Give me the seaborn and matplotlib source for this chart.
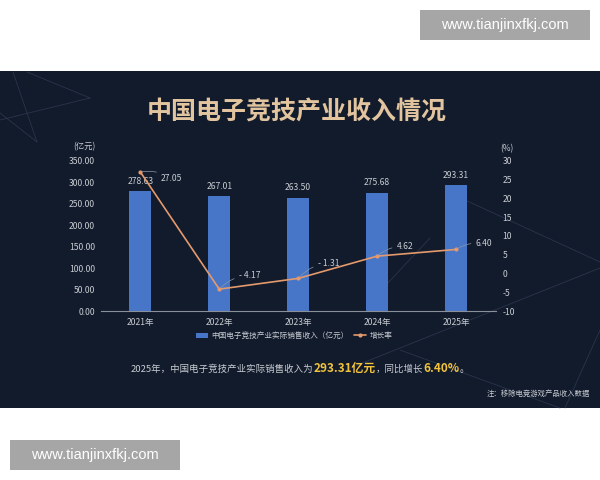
import numpy as np
import pandas as pd
import matplotlib
matplotlib.use('Agg')
import matplotlib.pyplot as plt
from matplotlib.patches import Rectangle
from matplotlib.lines import Line2D
import seaborn as sns

# data
years = ['2021年', '2022年', '2023年', '2024年', '2025年']
revenue = [278.63, 267.01, 263.50, 275.68, 293.31]
growth = [27.05, -4.17, -1.31, 4.62, 6.40]
growth_labels = ['27.05', '- 4.17', '- 1.31', '4.62', '6.40']
left_ticks = [0, 50, 100, 150, 200, 250, 300, 350]
right_ticks = [-10, -5, 0, 5, 10, 15, 20, 25, 30]

bar_name = '中国电子竞技产业实际销售收入（亿元）'
line_name = '增长率'
title = '中国电子竞技产业收入情况'
note = '注：移除电竞游戏产品收入数据'

sns.set_theme(style='white')
plt.rcParams['font.family'] = ['Noto Sans CJK SC', 'DejaVu Sans']
plt.rcParams['axes.unicode_minus'] = False

BG = '#111b2c'
BAR = '#4775c8'
LINE = '#e49a6c'
TXT = '#c9ccd2'
GOLD = '#f2c23c'

fig = plt.figure(figsize=(6, 4.8), dpi=100)
fig.patch.set_facecolor('white')

# dark panel
fig.patches.append(Rectangle((0, 0.15), 1, 0.702, transform=fig.transFigure,
                             facecolor=BG, edgecolor='none', zorder=-2))

# faint decorative lines (pixel coords)
deco = [((13, 72), (37, 142)), ((0, 120), (90, 98)), ((27, 72), (90, 98)),
        ((0, 113), (37, 142)), ((350, 368), (600, 268)), ((465, 200), (600, 262)),
        ((430, 238), (372, 300)), ((565, 408), (600, 330)), ((400, 350), (560, 408))]
for (x0, y0), (x1, y1) in deco:
    fig.add_artist(Line2D([x0 / 600, x1 / 600], [1 - y0 / 480, 1 - y1 / 480],
                          transform=fig.transFigure, color='#34405a', lw=0.6,
                          alpha=0.7, zorder=-1))

ax = fig.add_axes([0.168, 0.352, 0.658, 0.313])
ax.set_facecolor('none')
df = pd.DataFrame({'year': years, 'revenue': revenue, 'growth': growth})

sns.barplot(data=df, x='year', y='revenue', color=BAR, width=0.28,
            saturation=1, linewidth=0, edgecolor='none', ax=ax)
ax.set_ylim(0, 350)
ax.set_xlim(-0.5, 4.5)
ax.set_yticks(left_ticks)
ax.set_yticklabels([f'{v:.2f}' for v in left_ticks])
ax.set_xlabel('')
ax.set_ylabel('')
for s in ['top', 'right', 'left']:
    ax.spines[s].set_visible(False)
ax.spines['bottom'].set_color('#8a9099')
ax.spines['bottom'].set_linewidth(0.8)
ax.tick_params(axis='y', length=0, labelsize=6.2, labelcolor=TXT, pad=4)
ax.tick_params(axis='x', length=0, labelsize=6.2, labelcolor=TXT, pad=5)
ax.set_xticks(np.arange(-0.5, 5, 1), minor=True)
ax.tick_params(axis='x', which='minor', length=3, color='#8a9099', width=0.8)

for i, v in enumerate(revenue):
    ax.annotate(f'{v:.2f}', (i, v), xytext=(0, 4), textcoords='offset points',
                ha='center', va='bottom', fontsize=6.2, color=TXT)

ax2 = ax.twinx()
sns.lineplot(x=np.arange(len(growth)), y=growth, ax=ax2, color=LINE, lw=1.2,
             marker='o', markersize=3, markeredgewidth=0)
ax2.set_ylim(-10, 30)
ax2.set_yticks(right_ticks)
ax2.set_yticklabels([str(v) for v in right_ticks])
ax2.set_facecolor('none')
for s in ax2.spines.values():
    s.set_visible(False)
ax2.tick_params(axis='y', length=0, labelsize=6.2, labelcolor=TXT, pad=5)

offsets = [(15, -5), (14, 10), (14, 11), (14, 7), (14, 4)]
for i, (v, lab) in enumerate(zip(growth, growth_labels)):
    ax2.annotate(lab, (i, v), xytext=offsets[i], textcoords='offset points',
                 ha='left', va='center', fontsize=6.2, color=TXT,
                 arrowprops=dict(arrowstyle='-', color='#8a9aaa', lw=0.5,
                                 shrinkA=1, shrinkB=1,
                                 connectionstyle='arc3,rad=0.2'))

# units
fig.text(84 / 600, 1 - 147 / 480, '(亿元)', fontsize=6, color=TXT, ha='center', va='center')
fig.text(507 / 600, 1 - 149 / 480, '(%)', fontsize=6, color=TXT, ha='center', va='center')

# title
fig.text(0.495, 1 - 112 / 480, title, fontsize=18, fontweight='heavy',
         color='#e2c49e', ha='center', va='center')

# legend
handles = [Rectangle((0, 0), 1, 1, facecolor=BAR, edgecolor='none'),
           Line2D([], [], color=LINE, lw=1.2, marker='o', markersize=3, markeredgewidth=0)]
leg = fig.legend(handles, [bar_name, line_name], loc='center',
                 bbox_to_anchor=(0.49, 1 - 336 / 480), ncol=2, frameon=False,
                 fontsize=5.5, labelcolor=TXT, handlelength=1.6, handleheight=0.7,
                 columnspacing=0.8, handletextpad=0.4)

# summary line with highlighted parts
parts = [('2025年，中国电子竞技产业实际销售收入为', 6.8, 'normal', TXT),
         ('293.31亿元', 8.5, 'bold', GOLD),
         ('，同比增长', 6.8, 'normal', TXT),
         ('6.40%', 8.5, 'bold', GOLD),
         ('。', 6.8, 'normal', TXT)]
renderer = fig.canvas.get_renderer()
texts = []
for s, fs, fw, c in parts:
    t = fig.text(0, 1 - 372 / 480, s, fontsize=fs, fontweight=fw, color=c,
                 ha='left', va='baseline')
    texts.append(t)
widths = [t.get_window_extent(renderer).width for t in texts]
x = (600 * 0.5 - sum(widths) / 2) / 600
for t, w in zip(texts, widths):
    t.set_x(x)
    x += w / 600

fig.text(590 / 600, 1 - 394 / 480, note, fontsize=5.3, color=TXT, ha='right', va='center')

# watermarks
for (bx, by, bw, bh) in [(420, 10, 170, 30), (10, 440, 170, 30)]:
    fig.patches.append(Rectangle((bx / 600, 1 - (by + bh) / 480), bw / 600, bh / 480,
                                 transform=fig.transFigure, facecolor='#a6a6a6',
                                 edgecolor='none', zorder=3))
    fig.text((bx + bw / 2) / 600, 1 - (by + bh / 2) / 480, 'www.tianjinxfkj.com',
             fontsize=10.5, color='white', ha='center', va='center',
             family='Liberation Sans', zorder=4)

fig.savefig('out.png', dpi=100, facecolor=fig.get_facecolor())
